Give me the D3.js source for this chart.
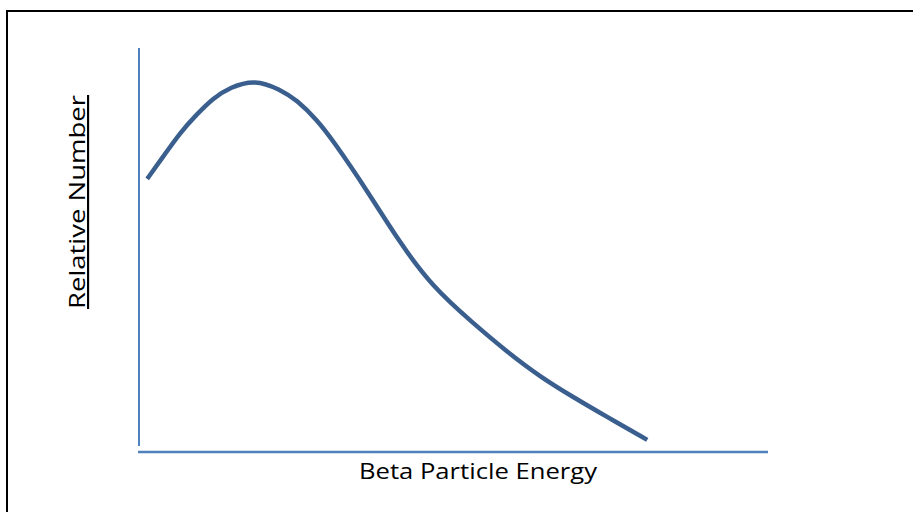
<!DOCTYPE html>
<html>
<head>
<meta charset="utf-8">
<script src="https://cdn.jsdelivr.net/npm/d3@7"></script>
<style>
  html, body { margin: 0; padding: 0; background: #fff; }
  svg { display: block; }
</style>
</head>
<body>
<svg id="chart" width="913" height="512"></svg>
<script>
// Energy (arbitrary units) and relative number
const energy = [0.13, 0.38, 0.65, 0.92, 1.18, 1.45, 1.84, 2.24, 2.51, 2.83, 3.08, 3.62, 4.15, 4.67, 5.31, 5.85, 6.38, 6.90, 7.44, 8.08];
const relNumber = [0.676, 0.730, 0.790, 0.836, 0.876, 0.903, 0.922, 0.898, 0.871, 0.822, 0.772, 0.649, 0.517, 0.408, 0.319, 0.248, 0.186, 0.136, 0.087, 0.030];
const xLabel = "Beta Particle Energy";
const yLabel = "Relative Number";

const svg = d3.select("#chart");

// frame border
svg.append("path")
  .attr("d", "M7,512 L7,11 L913,11")
  .attr("fill", "none").attr("stroke", "#000").attr("stroke-width", 2);

const x = d3.scaleLinear().domain([0, 10]).range([139, 768]);
const y = d3.scaleLinear().domain([0, 1]).range([452, 48]);

// axes
svg.append("line")
  .attr("x1", x(0)).attr("x2", x(0)).attr("y1", y(1)).attr("y2", 446)
  .attr("stroke", "#4f81bd").attr("stroke-width", 2);
svg.append("line")
  .attr("x1", x(0) - 1).attr("x2", x(10)).attr("y1", y(0)).attr("y2", y(0))
  .attr("stroke", "#4f81bd").attr("stroke-width", 2.5);

const data = energy.map((e, i) => [e, relNumber[i]]);
const line = d3.line().x(d => x(d[0])).y(d => y(d[1])).curve(d3.curveBasis);
svg.append("path")
  .datum(data)
  .attr("d", line)
  .attr("fill", "none")
  .attr("stroke", "#3a5f8e")
  .attr("stroke-width", 4.5);

// x label
svg.append("text")
  .attr("x", 478).attr("y", 479)
  .attr("text-anchor", "middle")
  .attr("font-family", "'Open Sans', sans-serif")
  .attr("font-size", 21.5)
  .attr("textLength", 238)
  .attr("lengthAdjust", "spacingAndGlyphs")
  .attr("fill", "#000")
  .text(xLabel);

// y label (underlined)
svg.append("text")
  .attr("transform", "translate(85,202) rotate(-90)")
  .attr("text-anchor", "middle")
  .attr("font-family", "'Open Sans', sans-serif")
  .attr("font-size", 21.5)
  .attr("textLength", 214)
  .attr("lengthAdjust", "spacingAndGlyphs")
  .attr("text-decoration", "underline")
  .attr("fill", "#000")
  .text(yLabel);
</script>
</body>
</html>
